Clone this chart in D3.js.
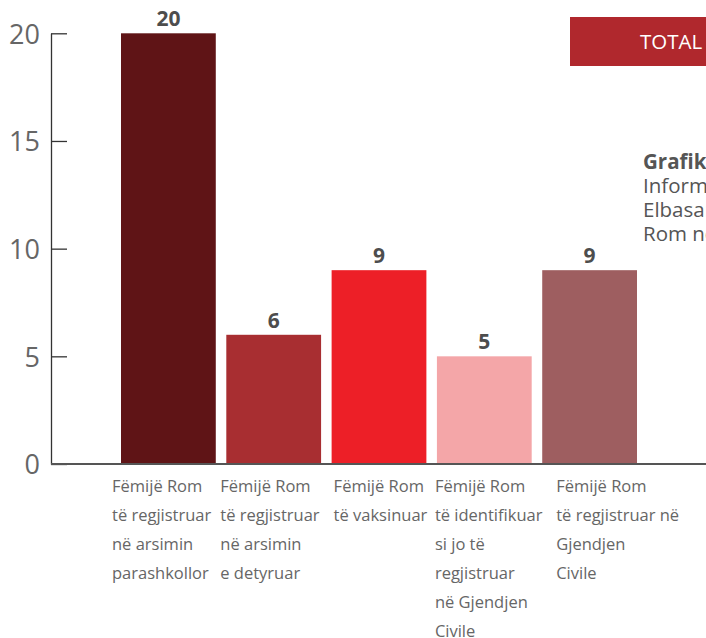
<!DOCTYPE html>
<html>
<head>
<meta charset="utf-8">
<script src="https://cdn.jsdelivr.net/npm/d3@7"></script>
<style>
  html, body { margin: 0; padding: 0; background: #fff; overflow: hidden; }
  svg { display: block; }
</style>
</head>
<body>
<svg id="chart" width="706" height="638"></svg>
<script>
// ---- data ----
const categories = [
  ["Fëmijë Rom", "të regjistruar", "në arsimin", "parashkollor"],
  ["Fëmijë Rom", "të regjistruar", "në arsimin", "e detyruar"],
  ["Fëmijë Rom", "të vaksinuar"],
  ["Fëmijë Rom", "të identifikuar", "si jo të", "regjistruar", "në Gjendjen", "Civile"],
  ["Fëmijë Rom", "të regjistruar në", "Gjendjen", "Civile"]
];
const values = [20, 6, 9, 5, 9];
const barColors = ["#5f1416", "#a82e31", "#ed1f27", "#f4a6a8", "#9e5e60"];
const yTicks = [0, 5, 10, 15, 20];
const totalLabel = "TOTAL";
const sideText = ["Grafiku", "Informacion", "Elbasan", "Rom në"];

// ---- layout ----
const labelOffsets = [-9, -6, 2, -2, 14];
const svg = d3.select("#chart");
const font = "'Open Sans', 'Noto Sans', sans-serif";

const x = d3.scaleBand()
  .domain(d3.range(values.length))
  .range([121, 637])
  .paddingInner(0.1)
  .paddingOuter(0);

const y = d3.scaleLinear().domain([0, 20]).range([464, 33.3]);

// bars
svg.append("g").selectAll("rect")
  .data(values)
  .join("rect")
  .attr("x", (d, i) => x(i))
  .attr("y", d => y(d))
  .attr("width", x.bandwidth())
  .attr("height", d => y(0) - y(d))
  .attr("fill", (d, i) => barColors[i]);

// value labels
svg.append("g").selectAll("text")
  .data(values)
  .join("text")
  .attr("x", (d, i) => x(i) + x.bandwidth() / 2)
  .attr("y", d => y(d) - 7)
  .attr("text-anchor", "middle")
  .attr("font-family", font)
  .attr("font-weight", "bold")
  .attr("font-size", 21)
  .attr("fill", "#4d4d4d")
  .text(d => d);

// y axis
const yAxis = d3.axisLeft(y)
  .tickValues(yTicks)
  .tickSizeInner(-16)
  .tickSizeOuter(0)
  .tickPadding(11);
const ga = svg.append("g").attr("transform", "translate(51,0)").call(yAxis);
ga.select(".domain").attr("stroke", "#333").attr("stroke-width", 1.3);
ga.selectAll(".tick line").attr("stroke", "#333").attr("stroke-width", 1.3);
ga.selectAll(".tick text")
  .attr("font-family", font)
  .attr("font-size", 27)
  .attr("fill", "#666")
  .attr("dy", "0.36em");

// baseline
svg.append("line")
  .attr("x1", 51).attr("x2", 706)
  .attr("y1", y(0)).attr("y2", y(0))
  .attr("stroke", "#555").attr("stroke-width", 1.8);

// category labels
const cg = svg.append("g");
categories.forEach((lines, i) => {
  const t = cg.append("text")
    .attr("font-family", font)
    .attr("font-size", 16.5)
    .attr("fill", "#666");
  lines.forEach((ln, j) => {
    t.append("tspan")
      .attr("x", x(i) + labelOffsets[i])
      .attr("y", 492 + j * 29)
      .text(ln);
  });
});

// TOTAL box
svg.append("rect")
  .attr("x", 570).attr("y", 17)
  .attr("width", 160).attr("height", 49)
  .attr("fill", "#b0282d");
svg.append("text")
  .attr("x", 640).attr("y", 49)
  .attr("font-family", font)
  .attr("font-size", 20.5)
  .attr("fill", "#fff")
  .text(totalLabel);

// side text
sideText.forEach((ln, j) => {
  svg.append("text")
    .attr("font-family", font)
    .attr("font-size", 20.5)
    .attr("fill", "#555")
    .attr("x", 643)
    .attr("y", 169 + j * 24)
    .attr("font-weight", j === 0 ? "bold" : "normal")
    .text(ln);
});
</script>
</body>
</html>
